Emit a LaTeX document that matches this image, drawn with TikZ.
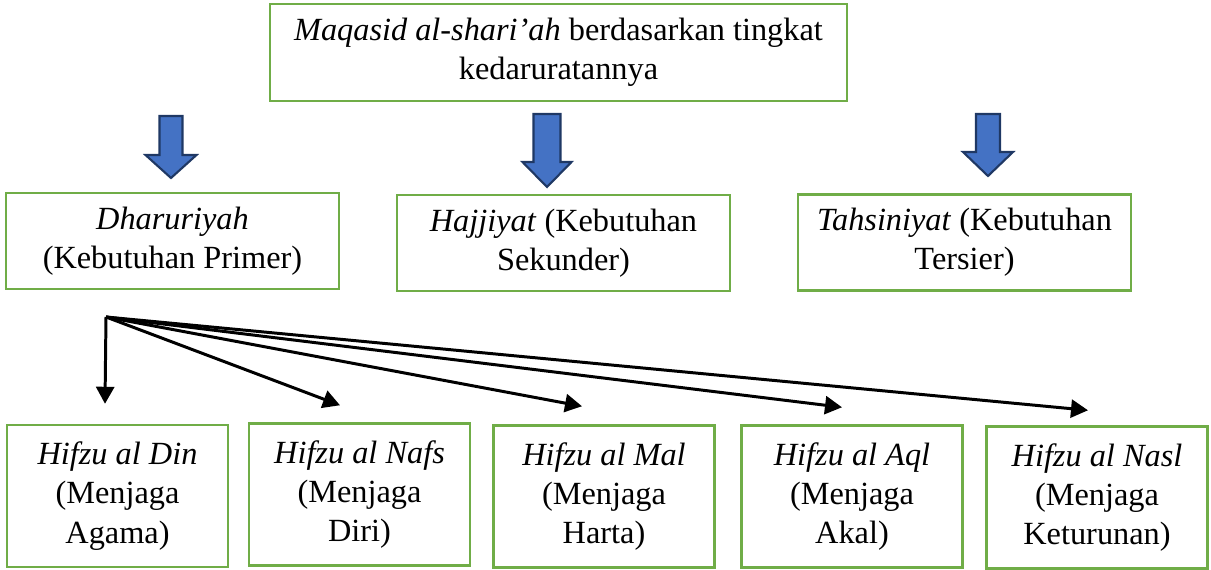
\documentclass[tikz,border=0pt]{standalone}
\usepackage{fontspec}
\setmainfont{Liberation Serif}
\usepackage{xcolor}
\usetikzlibrary{arrows.meta, positioning}

\definecolor{boxgreen}{HTML}{70AD47}
\definecolor{arrowblue}{HTML}{4472C4}
\definecolor{arrowedge}{HTML}{1F3864}

\begin{document}
\begin{tikzpicture}[x=0.02cm, y=-0.02cm,
    box/.style = {draw=boxgreen, line width=1.4pt, fill=white, align=center, inner sep=2pt,
                  font=\fontsize{18.4}{22.3}\selectfont},
    levelbox/.style = {box, minimum width=6.66cm, minimum height=1.92cm},
    hifzbox/.style = {box, minimum width=4.42cm, minimum height=2.84cm},
    bigarrow/.style = {draw=arrowedge, line width=1.2pt, fill=arrowblue, line join=miter},
    conn/.style = {line width=1.7pt, -{Triangle[length=0.34cm, width=0.36cm]}}]
    \useasboundingbox (0,0) rectangle (1211,570);

    % judul
    \node[box, minimum width=11.54cm, minimum height=1.94cm] (maqasid) at (558.5,52.5)
        {\textit{Maqasid al-shari’ah} berdasarkan tingkat\\kedaruratannya};

    % panah biru
    \foreach \cx/\top/\sw/\hw/\hy/\tip in {171/116/11.5/25.5/155/178,
                                          547/114/13.5/24.5/162/187,
                                          988/114/12/25/152/176}
        \draw[bigarrow] (\cx-\sw,\top) -- (\cx+\sw,\top) -- (\cx+\sw,\hy) -- (\cx+\hw,\hy)
            -- (\cx,\tip) -- (\cx-\hw,\hy) -- (\cx-\sw,\hy) -- cycle;

    % tingkat kebutuhan
    \node[levelbox] (dharuriyah) at (172.5,241) {\textit{Dharuriyah}\\(Kebutuhan Primer)};
    \node[levelbox] (hajjiyat)   at (563.5,243) {\textit{Hajjiyat} (Kebutuhan\\Sekunder)};
    \node[levelbox] (tahsiniyat) at (964.5,242.5) {\textit{Tahsiniyat} (Kebutuhan\\Tersier)};

    % lima hifzu
    \node[hifzbox] (din)  at (117.5,496)  {\textit{Hifzu al Din}\\(Menjaga\\Agama)};
    \node[hifzbox] (nafs) at (359.5,494.5) {\textit{Hifzu al Nafs}\\(Menjaga\\Diri)};
    \node[hifzbox] (mal)  at (604,496.5)  {\textit{Hifzu al Mal}\\(Menjaga\\Harta)};
    \node[hifzbox] (aql)  at (852,496.5)  {\textit{Hifzu al Aql}\\(Menjaga\\Akal)};
    \node[hifzbox] (nasl) at (1097,497.5) {\textit{Hifzu al Nasl}\\(Menjaga\\Keturunan)};

    \coordinate (hub) at (106,317);
    \draw[conn] (hub) -- ([shift={(-12.5,-20)}]din.north);
    \draw[conn] (hub) -- ([shift={(-19.5,-17)}]nafs.north);
    \draw[conn] (hub) -- ([shift={(-22,-18)}]mal.north);
    \draw[conn] (hub) -- ([shift={(-10,-17)}]aql.north);
    \draw[conn] (hub) -- ([shift={(-9,-15)}]nasl.north);
\end{tikzpicture}
\end{document}
